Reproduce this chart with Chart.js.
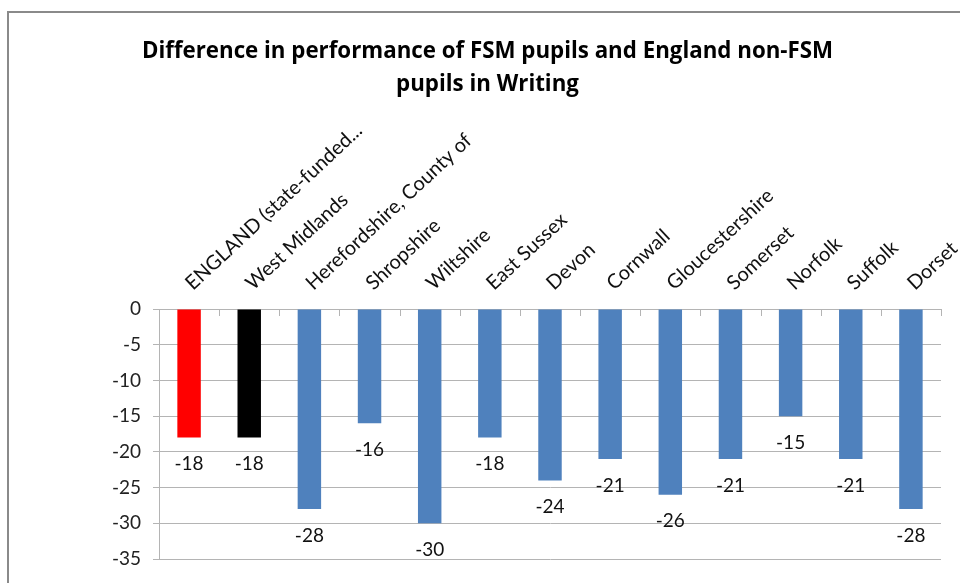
<!DOCTYPE html>
<html>
<head>
<meta charset="utf-8">
<script src="https://cdn.jsdelivr.net/npm/chart.js@4.4.1/dist/chart.umd.min.js"></script>
<style>
  html, body { margin: 0; padding: 0; background: #fff; overflow: hidden; }
  #wrap { position: relative; width: 960px; height: 583px; }
  #frame { position: absolute; left: 7px; top: 11px; width: 1100px; height: 800px;
           border: 2px solid #8a8a8a; box-sizing: border-box; }
  canvas { position: absolute; left: 0; top: 0; }
</style>
</head>
<body>
<div id="wrap">
  <div id="frame"></div>
  <canvas id="chart" width="960" height="583"></canvas>
</div>
<script>
// Local authority areas compared against the national figure
const categories = [
  'ENGLAND (state-funded...', 'West Midlands', 'Herefordshire, County of',
  'Shropshire', 'Wiltshire', 'East Sussex', 'Devon', 'Cornwall',
  'Gloucestershire', 'Somerset', 'Norfolk', 'Suffolk', 'Dorset'
];
// Gap (percentage points) between FSM pupils and England non-FSM pupils
const gapValues = [-18, -18, -28, -16, -30, -18, -24, -21, -26, -21, -15, -21, -28];
const barColours = ['#FF0000', '#000000', '#4F81BD', '#4F81BD', '#4F81BD', '#4F81BD',
  '#4F81BD', '#4F81BD', '#4F81BD', '#4F81BD', '#4F81BD', '#4F81BD', '#4F81BD'];
const titleLines = ['Difference in performance of FSM pupils and England non-FSM',
  'pupils in Writing'];
const yMin = -35, yMax = 0, yStep = 5;

const gridGrey = '#b4b4b4';
const baseFont = 'Lato, "Open Sans", sans-serif';
const titleFont = '"Open Sans", Lato, sans-serif';

// Short category tick marks hanging below the zero line
const categoryTicks = {
  id: 'categoryTicks',
  afterDraw(chart) {
    const x = chart.scales.x, area = chart.chartArea, ctx = chart.ctx;
    ctx.save();
    ctx.strokeStyle = gridGrey;
    ctx.lineWidth = 1;
    for (let i = 0; i <= categories.length; i++) {
      const px = Math.round(x.getPixelForValue(i - 0.5)) + 0.5;
      ctx.beginPath();
      ctx.moveTo(px, area.top);
      ctx.lineTo(px, area.top + 7);
      ctx.stroke();
    }
    ctx.restore();
  }
};

// Value labels placed just beyond the end of each bar
const valueLabels = {
  id: 'valueLabels',
  afterDatasetsDraw(chart) {
    const ctx = chart.ctx;
    const meta = chart.getDatasetMeta(0);
    ctx.save();
    ctx.font = '19px ' + baseFont;
    ctx.fillStyle = '#111';
    ctx.textAlign = 'center';
    ctx.textBaseline = 'top';
    meta.data.forEach((bar, i) => {
      const v = chart.data.datasets[0].data[i];
      ctx.fillText(String(v), bar.x, bar.y + 17);
    });
    ctx.restore();
  }
};

new Chart(document.getElementById('chart'), {
  type: 'bar',
  data: {
    labels: categories,
    datasets: [{
      data: gapValues,
      backgroundColor: barColours,
      borderWidth: 0,
      barPercentage: 0.39,
      categoryPercentage: 1.0
    }]
  },
  options: {
    responsive: false,
    animation: false,
    layout: { padding: { left: 34, right: 19, top: 0, bottom: 24 } },
    plugins: {
      legend: { display: false },
      tooltip: { enabled: false },
      title: {
        display: true,
        text: titleLines,
        color: '#000',
        font: { family: titleFont, size: 22.3, weight: 'bold', lineHeight: 1.48 },
        padding: { top: 35, bottom: 0 }
      }
    },
    scales: {
      x: {
        position: 'top',
        grid: { display: false, drawTicks: false },
        border: { display: true, color: gridGrey, width: 1 },
        ticks: {
          autoSkip: false,
          minRotation: 43,
          maxRotation: 43,
          padding: 14,
          labelOffset: 16,
          color: '#111',
          font: { family: baseFont, size: 20 }
        },
        afterFit(scale) {
          scale.height = 208;
          scale.paddingLeft = 0;
          scale.paddingRight = 0;
        }
      },
      y: {
        min: yMin,
        max: yMax,
        ticks: {
          stepSize: yStep,
          padding: 12,
          color: '#222',
          font: { family: baseFont, size: 19 }
        },
        grid: { color: gridGrey, lineWidth: 1, tickLength: 6 },
        border: { color: gridGrey, width: 1 },
        afterFit(scale) {
          scale.width = 125;
          scale.paddingTop = 0;
          scale.paddingBottom = 0;
        }
      }
    }
  },
  plugins: [categoryTicks, valueLabels]
});
</script>
</body>
</html>
